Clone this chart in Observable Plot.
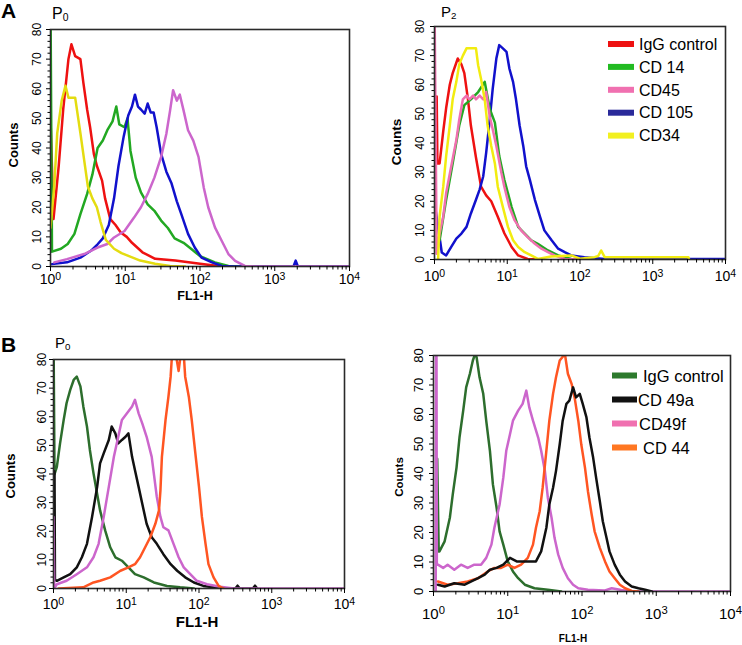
<!DOCTYPE html>
<html><head><meta charset="utf-8">
<script src="https://cdn.jsdelivr.net/npm/d3@7"></script>
<script src="https://cdn.jsdelivr.net/npm/@observablehq/plot@0.6"></script>
<style>
body{margin:0;background:#fff;}
#root{position:relative;width:742px;height:645px;overflow:hidden;font-family:"Liberation Sans",Arial,sans-serif;}
#root > svg{position:absolute;}
</style></head><body><div id="root"></div>
<script>
// Each series: [log10(FL1-H), counts]
// Panel A, P0
const a0_igg = [[0,50],[0.04,16],[0.11,34],[0.17,53],[0.24,70],[0.28,75],[0.33,71],[0.4,70],[0.44,62],[0.49,53],[0.53,47],[0.58,38],[0.62,34],[0.69,29],[0.73,23],[0.8,16],[0.87,14],[0.94,11.5],[1.02,10],[1.09,8],[1.23,4.8],[1.4,2.6],[1.67,2],[2.0,0.9],[2.3,0]];
const a0_cd14 = [[0,90],[0.02,5],[0.14,6],[0.23,7.6],[0.32,11],[0.4,17.7],[0.49,24.5],[0.56,31],[0.63,40],[0.7,42.5],[0.76,46],[0.83,49],[0.88,54],[0.92,48],[0.99,47],[1.03,50],[1.07,39],[1.14,30],[1.21,25],[1.3,21],[1.39,18.8],[1.48,15.5],[1.57,13],[1.66,9.5],[1.78,8],[1.88,6],[2.0,3.5],[2.2,1.4],[2.38,0.2],[2.56,0]];
const a0_cd105 = [[0.02,0.8],[0.22,1.4],[0.4,3],[0.54,5.3],[0.63,7.5],[0.7,9.5],[0.78,14],[0.85,23],[0.91,34],[0.98,44],[1.04,51],[1.09,54],[1.13,58],[1.17,54],[1.21,53],[1.26,51.6],[1.3,55],[1.34,52],[1.38,52],[1.42,47],[1.48,38],[1.55,32],[1.62,28],[1.69,22],[1.75,17.7],[1.84,11],[1.93,6.4],[2.02,3],[2.16,1.4],[2.29,0.2],[2.47,0],[3.25,0],[3.28,2],[3.31,0],[4,0]];
const a0_cd45 = [[0.05,1.4],[0.22,2.5],[0.45,4.2],[0.63,6.4],[0.76,7.6],[0.85,9.8],[0.99,12],[1.12,16.6],[1.21,20],[1.3,24.5],[1.39,30],[1.48,37],[1.55,44.8],[1.6,52.7],[1.64,59.5],[1.69,56],[1.73,58],[1.78,52.7],[1.84,46],[1.91,42.5],[1.98,37],[2.05,26.7],[2.11,20],[2.2,13.2],[2.29,8.7],[2.38,4.2],[2.47,1.9],[2.6,0.2],[2.74,0],[4,0]];
const a0_cd34 = [[0,13],[0.05,27],[0.09,45],[0.15,56],[0.2,61],[0.24,57],[0.33,57],[0.4,45],[0.45,36],[0.5,27],[0.56,23],[0.62,20],[0.67,15],[0.74,9],[0.85,6],[0.95,4.5],[1.05,3.5],[1.2,2],[1.4,0.9],[1.6,0.2],[1.8,0]];
// Panel A, P2
const a2_igg = [[0.03,56],[0.04,33],[0.07,33],[0.12,44],[0.16,52],[0.21,60],[0.25,64],[0.32,69],[0.37,67],[0.41,64],[0.46,55],[0.5,46],[0.57,35],[0.64,25],[0.71,22],[0.78,20],[0.87,14.7],[0.96,9],[1.06,4.3],[1.15,1.4],[1.28,0.2],[1.42,0]];
const a2_cd14 = [[0.07,6.6],[0.16,20.5],[0.25,33],[0.34,46],[0.41,53],[0.5,55],[0.6,57.5],[0.69,61],[0.76,51.7],[0.83,47],[0.89,35.5],[0.96,27.4],[1.06,18],[1.15,11.2],[1.24,8.9],[1.33,6.6],[1.42,5.4],[1.56,3.1],[1.7,1.4],[1.88,0.2],[2.1,0]];
const a2_cd45 = [[0,90],[0.03,2],[0.07,8.9],[0.12,14.7],[0.16,22.8],[0.23,32],[0.3,41],[0.34,48],[0.39,55],[0.44,56.3],[0.48,55],[0.53,56.3],[0.57,55],[0.62,56.3],[0.67,55],[0.71,57.5],[0.76,49],[0.8,44.7],[0.85,39],[0.92,29.7],[0.96,25],[1.03,18],[1.1,13.5],[1.19,10],[1.28,7.7],[1.38,5.4],[1.47,3.7],[1.56,2.5],[1.65,1.4],[1.79,0.2],[2.11,0]];
const a2_cd105 = [[0.01,43],[0.015,17],[0.1,2.4],[0.16,1.4],[0.23,4.3],[0.3,7.2],[0.37,8.9],[0.44,11.2],[0.5,15.8],[0.57,20.5],[0.62,24],[0.67,28.6],[0.71,36.6],[0.76,48.2],[0.8,58.6],[0.85,69],[0.89,73.6],[0.94,72.5],[0.99,71.3],[1.03,65.5],[1.08,61],[1.12,55],[1.17,46],[1.22,39],[1.26,32],[1.31,27.4],[1.38,20.5],[1.45,14.7],[1.51,10],[1.61,6.6],[1.7,3.7],[1.79,2.5],[1.88,1.4],[2.06,0.8],[2.34,0.2],[4,0.2]];
const a2_cd34 = [[0.05,0],[0.07,14.7],[0.12,25],[0.16,35.5],[0.21,46],[0.25,55],[0.3,61],[0.34,67],[0.39,70],[0.44,72.5],[0.5,72.5],[0.57,72.5],[0.6,66.7],[0.64,62],[0.69,55],[0.73,46],[0.78,39],[0.83,33],[0.87,25],[0.94,18],[1.01,11.2],[1.08,6.6],[1.15,4.3],[1.24,2.5],[1.33,1.4],[1.42,0.2],[1.6,1],[1.88,1.4],[2.0,0.3],[2.2,0.8],[2.25,1.2],[2.29,3.1],[2.34,0.8],[3.49,0.8],[3.5,0]];
// Panel B, P0
const b0_igg = [[0,90],[0.014,40],[0.046,42.5],[0.09,50.7],[0.14,58.9],[0.18,64.8],[0.23,69.4],[0.28,73],[0.32,74],[0.37,70.6],[0.41,63.6],[0.46,56.6],[0.5,48.4],[0.55,40.2],[0.6,33],[0.64,27.3],[0.71,20.3],[0.78,14.4],[0.85,10.9],[0.94,9.7],[1.03,7.4],[1.12,5],[1.24,3.9],[1.38,2.1],[1.56,0.9],[1.74,0.4],[1.93,0]];
const b0_cd49a = [[0.014,41],[0.02,3],[0.046,2.7],[0.14,3.9],[0.23,5],[0.32,7.4],[0.39,10.9],[0.46,15.6],[0.53,25],[0.6,35.5],[0.64,43.7],[0.69,47.2],[0.76,51.9],[0.8,56.6],[0.85,54.2],[0.89,50.7],[0.94,51.9],[0.99,53],[1.03,54.2],[1.08,46],[1.12,41.3],[1.17,35.5],[1.22,29.6],[1.28,22.6],[1.35,17.9],[1.42,15.6],[1.51,12],[1.61,8.5],[1.7,6.2],[1.81,3.9],[1.93,2.1],[2.06,0.9],[2.2,0.4],[2.29,0],[2.5,0],[2.53,1],[2.56,0],[2.74,0],[2.77,1],[2.8,0]];
const b0_cd49f = [[0,25],[0.01,0],[0.046,1.5],[0.18,2.7],[0.32,5],[0.46,7.4],[0.55,10.9],[0.62,15.6],[0.69,25],[0.76,35.5],[0.83,46],[0.89,53],[0.94,58.9],[1.01,61.2],[1.08,63.6],[1.12,65.9],[1.17,61.2],[1.22,57.7],[1.28,53],[1.35,46],[1.42,32],[1.47,25],[1.51,21.4],[1.58,20.3],[1.65,15.6],[1.72,10.9],[1.79,7.4],[1.88,5],[1.97,2.7],[2.11,1.5],[2.29,0.6],[2.48,0],[4,0]];
const b0_cd44 = [[0.07,0],[0.41,0.4],[0.55,2.1],[0.64,2.7],[0.78,3.9],[0.92,6.2],[1.03,7.4],[1.12,8.5],[1.19,10.9],[1.26,14.4],[1.33,17.9],[1.4,22.6],[1.45,27.3],[1.47,34.3],[1.49,46],[1.54,58.9],[1.58,67],[1.61,74],[1.63,82],[1.68,82],[1.72,76],[1.75,82],[1.79,82],[1.81,74],[1.86,67],[1.9,58.9],[1.95,47.2],[2.0,35.5],[2.04,25],[2.09,15.6],[2.13,8.5],[2.2,3.9],[2.27,0.9],[2.34,0]];
// Panel B, second sample
const b1_igg = [[0.05,45],[0.07,13.6],[0.08,13.6],[0.15,17],[0.22,25],[0.26,33],[0.31,42],[0.35,52.2],[0.4,61.3],[0.44,69.2],[0.49,73.8],[0.53,78.3],[0.56,80.5],[0.58,79.5],[0.62,72.6],[0.67,67],[0.71,57.9],[0.76,47.7],[0.8,36.3],[0.85,28.4],[0.89,20.4],[0.94,15.9],[1.0,10.2],[1.07,6.8],[1.14,4.5],[1.23,2.3],[1.36,1.1],[1.54,0.6],[1.72,0]];
const b1_cd49a = [[0.06,2.3],[0.15,1.7],[0.28,2.8],[0.42,2.3],[0.51,3.4],[0.6,4.5],[0.69,5.7],[0.76,7.4],[0.85,8],[0.94,9.1],[1.03,11.4],[1.12,10.2],[1.2,10.2],[1.29,10.2],[1.38,10.2],[1.45,13.6],[1.52,21.6],[1.56,29.5],[1.61,35.2],[1.65,40.9],[1.7,49.9],[1.74,57.9],[1.79,63.6],[1.83,64.7],[1.88,69.2],[1.92,65.8],[1.97,67],[2.01,63.6],[2.06,59],[2.1,52.2],[2.15,45.4],[2.19,38.6],[2.24,30.6],[2.28,23.8],[2.33,18.2],[2.37,13.6],[2.44,9.1],[2.51,5.7],[2.58,3.4],[2.67,1.7],[2.76,1.1],[2.85,0.6],[2.94,0]];
const b1_cd49f = [[0.03,0],[0.035,90],[0.04,90],[0.045,9.1],[0.06,9.1],[0.13,8],[0.19,9.1],[0.28,7.4],[0.37,9.1],[0.46,8],[0.55,9.1],[0.64,9.1],[0.71,11.4],[0.78,15.9],[0.82,21.6],[0.89,29.5],[0.94,38.6],[0.98,47.7],[1.03,53.3],[1.07,57.9],[1.14,61.3],[1.2,63.6],[1.25,68.1],[1.29,62.4],[1.34,57.9],[1.41,52.2],[1.45,47.7],[1.5,40.9],[1.54,31.8],[1.59,25],[1.63,18.2],[1.68,12.5],[1.74,8],[1.81,4.5],[1.88,2.3],[1.95,1.1],[2.08,0.6],[2.3,0.3],[2.4,1.1],[2.53,0.5],[2.67,0],[4,0]];
const b1_cd44 = [[0.06,3.4],[0.19,2.3],[0.33,2.8],[0.46,3.4],[0.6,4.5],[0.73,6.8],[0.82,8],[0.91,8],[1.0,9.1],[1.09,8],[1.18,9.1],[1.27,11.4],[1.34,15.9],[1.38,21.6],[1.43,27.2],[1.47,35.2],[1.52,47.7],[1.56,57.9],[1.61,67],[1.65,72.6],[1.7,78.3],[1.77,80.5],[1.81,73.8],[1.86,70.4],[1.9,65.8],[1.95,57.9],[1.99,49.9],[2.04,42],[2.08,34],[2.13,26.1],[2.17,20.4],[2.24,14.8],[2.31,10.2],[2.37,6.8],[2.44,4.5],[2.51,2.3],[2.58,1.1],[2.67,0.2],[2.76,0]];

// Ticks
const xMajor = [1, 10, 100, 1000, 10000];
const xMinor = d3.range(0, 4).flatMap(k => d3.range(2, 10).map(m => m * 10 ** k));
const yTicks = [0, 10, 20, 30, 40, 50, 60, 70, 80];
const yMinor = d3.range(0, 81, 2).filter(v => v % 10 !== 0);

// Legends
const legendA = ["IgG control", "CD 14", "CD45", "CD 105", "CD34"];
const legendAColors = ["#ee1111", "#22bb22", "#f070b0", "#2a2a9a", "#f2f020"];
const legendB = ["IgG control", "CD 49a", "CD49f", "CD 44"];
const legendBColors = ["#2d7a2d", "#111111", "#f070b0", "#ff7722"];

const FONT = '"Liberation Sans", Arial, sans-serif';
const NS = "http://www.w3.org/2000/svg";
const root = document.getElementById("root");

function panel(o) {
  const [fx0, fy0, fx1, fy1] = o.frame;
  const svg = Plot.plot({
    width: o.width, height: o.height,
    marginLeft: fx0 - o.left, marginRight: o.left + o.width - fx1,
    marginTop: fy0 - o.top, marginBottom: o.top + o.height - fy1,
    x: {type: "log", domain: [1, 1e4]},
    y: {domain: [0, 80]},
    style: {fontFamily: FONT, background: "transparent", color: "#000", overflow: "visible"},
    marks: [
      ...o.series.map(s => Plot.line(s.data, {x: d => 10 ** d[0], y: d => d[1], stroke: s.color, strokeWidth: 2.5, clip: true})),
      Plot.frame({stroke: "#2a2a2a", strokeWidth: 1.6}),
      Plot.axisX({ticks: xMajor, tickFormat: d => String(Math.round(Math.log10(d))), tickSize: 5, tickPadding: o.xPad, fontSize: o.xFont, label: null, stroke: "#000", fill: "#000"}),
      Plot.axisX({ticks: xMinor, tickFormat: () => "", tickSize: 3.5, label: null, stroke: "#000"}),
      Plot.axisY({ticks: yTicks, tickRotate: -90, tickSize: 4, tickPadding: o.yPad, fontSize: o.yFont, label: null, stroke: "#000", fill: "#000"}),
      Plot.axisY({ticks: yMinor, tickFormat: () => "", tickSize: 2.5, label: null, stroke: "#000"})
    ]
  });
  svg.style.left = o.left + "px";
  svg.style.top = o.top + "px";
  svg.querySelectorAll('g[aria-label="x-axis tick label"] text').forEach(t => {
    const e = t.textContent.trim();
    if (e === "") return;
    t.textContent = "";
    const b = document.createElementNS(NS, "tspan"); b.textContent = "10";
    const s = document.createElementNS(NS, "tspan");
    s.setAttribute("dy", "-0.45em"); s.setAttribute("font-size", "0.75em"); s.textContent = e;
    t.append(b, s);
  });
  root.appendChild(svg);
}

panel({left: 0, top: 20, width: 371, height: 290, frame: [50, 29, 349, 266], xPad: 3, xFont: 14, yPad: 6, yFont: 12,
  series: [{data: a0_igg, color: "#ee1111"}, {data: a0_cd14, color: "#22a822"}, {data: a0_cd105, color: "#1111cc"}, {data: a0_cd45, color: "#cc66cc"}, {data: a0_cd34, color: "#e4dc10"}]});
panel({left: 371, top: 18, width: 371, height: 290, frame: [434, 26, 725, 259], xPad: 7, xFont: 14, yPad: 7, yFont: 12,
  series: [{data: a2_igg, color: "#ee1111"}, {data: a2_cd105, color: "#1111cc"}, {data: a2_cd14, color: "#22a822"}, {data: a2_cd45, color: "#f070b0"}, {data: a2_cd34, color: "#f2ec10"}]});
panel({left: 0, top: 330, width: 371, height: 305, frame: [53, 359, 344, 588], xPad: 6, xFont: 14, yPad: 4, yFont: 12,
  series: [{data: b0_igg, color: "#2d6e2d"}, {data: b0_cd49a, color: "#111111"}, {data: b0_cd49f, color: "#cc66cc"}, {data: b0_cd44, color: "#ff5522"}]});
panel({left: 371, top: 330, width: 371, height: 315, frame: [433, 355, 730, 591], xPad: 12, xFont: 15, yPad: 7, yFont: 13,
  series: [{data: b1_igg, color: "#2d6e2d"}, {data: b1_cd49f, color: "#cc66cc"}, {data: b1_cd44, color: "#ff5522"}, {data: b1_cd49a, color: "#111111"}]});

// Annotation layer
const ov = d3.select(root).append("svg").attr("width", 742).attr("height", 645)
  .style("left", "0px").style("top", "0px").style("font-family", FONT);
function txt(x, y, s, size, weight, anchor, rot) {
  const t = ov.append("text").attr("font-size", size).attr("font-weight", weight || "normal")
    .attr("text-anchor", anchor || "start").attr("fill", "#000");
  if (rot) t.attr("transform", `translate(${x},${y}) rotate(${rot})`); else t.attr("x", x).attr("y", y);
  t.text(s);
  return t;
}
function pLabel(x, y, size, sub) {
  const t = ov.append("text").attr("x", x).attr("y", y).attr("font-size", size).attr("fill", "#000");
  t.append("tspan").text("P");
  t.append("tspan").attr("font-size", size * 0.65).attr("dy", 2).text(sub);
}
txt(1, 18, "A", 21, "bold");
txt(1, 352, "B", 21, "bold");
pLabel(52, 19, 16, "0");
pLabel(441, 17, 15, "2");
pLabel(55, 348, 15, "0");
txt(18, 145, "Counts", 13, "bold", "middle", -90);
txt(401, 142, "Counts", 13.5, "bold", "middle", -90);
txt(15, 476, "Counts", 13, "bold", "middle", -90);
txt(403, 477, "Counts", 11.5, "bold", "middle", -90);
txt(195, 300, "FL1-H", 12.5, "bold", "middle");
txt(197, 627, "FL1-H", 15, "bold", "middle");
txt(573, 642, "FL1-H", 10, "bold", "middle");

legendA.forEach((name, i) => {
  const cy = 44 + i * 22.9;
  ov.append("rect").attr("x", 608).attr("y", cy - 3).attr("width", 26).attr("height", 6).attr("fill", legendAColors[i]);
  txt(639, cy + 5.7, name, 16);
});
const legendBX = [643, 638, 639, 643];
legendB.forEach((name, i) => {
  const cy = 375.5 + i * 24;
  ov.append("rect").attr("x", 612).attr("y", cy - 3).attr("width", 25).attr("height", 6).attr("fill", legendBColors[i]);
  txt(legendBX[i], cy + 6, name, 16.5);
});
</script>
</body></html>
